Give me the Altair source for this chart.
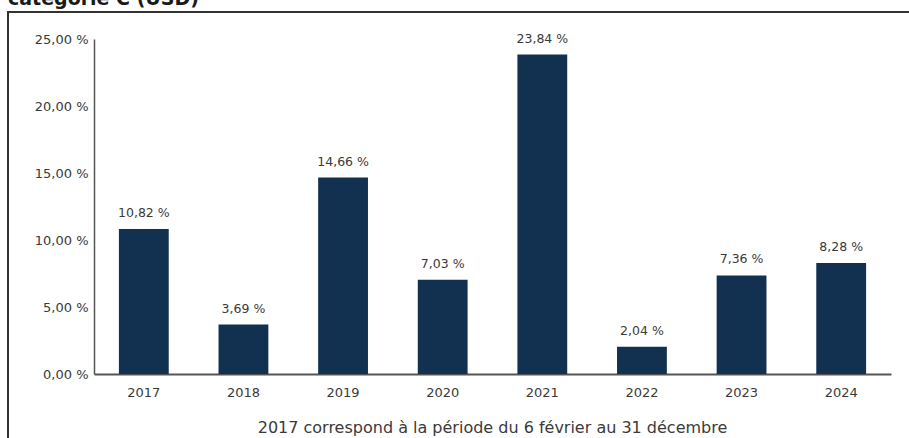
import altair as alt
import pandas as pd

years = ["2017", "2018", "2019", "2020", "2021", "2022", "2023", "2024"]
returns = [10.82, 3.69, 14.66, 7.03, 23.84, 2.04, 7.36, 8.28]
y_ticks = [0, 5, 10, 15, 20, 25]
title_text = "catégorie C (USD)"
footnote = "2017 correspond à la période du 6 février au 31 décembre"

df = pd.DataFrame({
    "year": years,
    "ret": returns,
    "label": [f"{v:.2f}".replace(".", ",") + " %" for v in returns],
})

FONT = "DejaVu Sans"
TXT = "#3a3a3a"
BAR = "#12304F"
W, H = 797, 335

base = alt.Chart(df)

bars = base.mark_bar(color=BAR).encode(
    x=alt.X("year:N", sort=years,
            scale=alt.Scale(paddingInner=0.5, paddingOuter=0.25),
            axis=alt.Axis(title=None, labelAngle=0, ticks=False, labelPadding=12,
                          labelFont=FONT, labelFontSize=13, labelColor=TXT,
                          domainColor="#555555", domainWidth=2)),
    y=alt.Y("ret:Q", scale=alt.Scale(domain=[0, 25], nice=False),
            axis=alt.Axis(title=None, values=y_ticks, grid=False, ticks=False,
                          labelPadding=6,
                          labelExpr="replace(format(datum.value, '.2f'), '.', ',') + ' %'",
                          labelFont=FONT, labelFontSize=13, labelColor=TXT,
                          domainColor="#555555", domainWidth=1.5)),
)

labels = base.mark_text(baseline="bottom", dy=-9, font=FONT, fontSize=12.5, color=TXT).encode(
    x=alt.X("year:N", sort=years),
    y="ret:Q",
    text="label:N",
)

one = alt.Data(values=[{"k": 1}])

frame_left = alt.Chart(one).mark_rule(color="#333333", strokeWidth=2).encode(
    x=alt.value(-86), y=alt.value(-27), y2=alt.value(420))
frame_top = alt.Chart(one).mark_rule(color="#333333", strokeWidth=2).encode(
    x=alt.value(-87), x2=alt.value(830), y=alt.value(-27))

title = alt.Chart(one).mark_text(align="left", baseline="alphabetic", font=FONT,
                                 fontSize=19, fontWeight="bold", color="#1a1a1a").encode(
    x=alt.value(-86), y=alt.value(-34), text=alt.value(title_text))

foot = alt.Chart(one).mark_text(align="center", baseline="middle", font=FONT,
                                fontSize=16, color=TXT).encode(
    x=alt.value(W / 2), y=alt.value(H + 54), text=alt.value(footnote))

chart = alt.layer(bars, labels, frame_left, frame_top, title, foot).properties(
    width=W, height=H,
    background="white",
    autosize=alt.AutoSizeParams(type="none"),
    padding={"left": 94, "top": 39, "right": 18, "bottom": 64},
).configure_view(stroke="transparent", strokeWidth=0)

chart.save("out.html", embed_options={"renderer": "svg", "actions": False})
